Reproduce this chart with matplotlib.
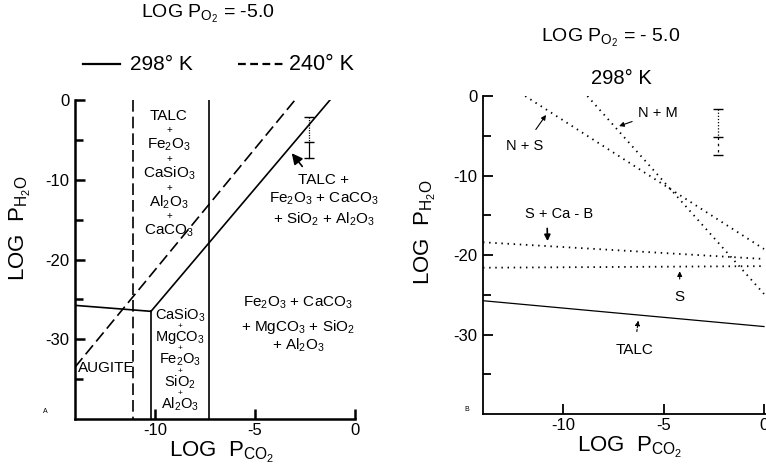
import matplotlib.pyplot as plt
from matplotlib.lines import Line2D

plt.rcParams['font.family'] = ['Liberation Sans', 'DejaVu Sans']
plt.rcParams['mathtext.default'] = 'regular'
plt.rcParams['axes.unicode_minus'] = False

W, H = 766, 473

# --- panel A: stability boundaries, log P(O2) = -5.0
# 298 K (solid)
augite_298_x = [-14.0, -10.2]
augite_298_y = [-25.75, -26.5]
casio3_298_x = [-10.2, -10.2]
casio3_298_y = [-26.5, -40.0]
talc_298_x = [-10.2, -1.25]
talc_298_y = [-26.5, 0.0]
caco3_298_x = [-7.3, -7.3]
caco3_298_y = [0.0, -40.0]
# 240 K (dashed)
caco3_240_x = [-11.1, -11.1]
caco3_240_y = [0.0, -40.0]
talc_240_x = [-14.0, -3.0]
talc_240_y = [-33.5, 0.0]

# measured water pressure range (upper / lower part)
err_x = -2.3
err_a_y = [-2.1, -5.25, -7.25]
err_b_y = [-1.6, -5.1, -7.4]

# --- panel B: individual reactions at 298 K
talc_b_x = [-14.0, 0.0]
talc_b_y = [-25.75, -29.0]
s_x = [-14.0, 0.0]
s_y = [-21.6, -21.4]
s_ca_b_x = [-14.0, 0.0]
s_ca_b_y = [-18.4, -20.5]
n_s_x = [-11.9, 0.0]
n_s_y = [0.0, -19.25]
n_m_x = [-8.8, 0.0]
n_m_y = [0.0, -24.9]

y_major = [0, -10, -20, -30]
y_minor = [-5, -15, -25, -35]
x_major = [-10, -5, 0]


def fx(px):
    return px / W


def fy(py):
    return 1 - py / H


def style_axes(ax, lw, xmax):
    for side in ('top', 'right'):
        ax.spines[side].set_visible(False)
    for side in ('left', 'bottom'):
        ax.spines[side].set_linewidth(lw)
    ax.set_xlim(-14, xmax)
    ax.set_ylim(-40, 0)
    ax.set_yticks(y_major)
    ax.set_yticks(y_minor, minor=True)
    ax.set_xticks(x_major)
    ax.tick_params(which='major', direction='in', length=7, width=lw, labelsize=12)
    ax.tick_params(which='minor', direction='in', length=6, width=lw)
    ax.tick_params(axis='y', pad=4)
    ax.tick_params(axis='x', pad=3)
    for s in ax.spines.values():
        s.set_clip_on(False)


def draw_errbar(ax, x, ys, upper_ls, lower_ls):
    ax.plot([x, x], ys[:2], color='k', lw=0.9, ls=upper_ls)
    ax.plot([x, x], ys[1:], color='k', lw=0.9, ls=lower_ls)
    ax.plot([x] * 3, ys, ls='none', marker='_', ms=7, mew=1.0, color='k')


def stack(ax, x, y0, step, items, fs, plus_fs=7):
    for i, s in enumerate(items):
        y = y0 - i * step
        ax.text(x, y, s, ha='center', va='center', fontsize=fs)
        if i < len(items) - 1:
            ax.text(x, y - step / 2, '+', ha='center', va='center', fontsize=plus_fs)


fig = plt.figure(figsize=(W / 100, H / 100), dpi=100)

# ---------------- panel A ----------------
axa = fig.add_axes([fx(75), fy(419), fx(355 - 75), (419 - 100) / H])
style_axes(axa, 1.8, 0)
solid = dict(color='k', lw=1.2)
dashed = dict(color='k', lw=1.2, ls=(0, (7, 3)))
axa.plot(augite_298_x, augite_298_y, **solid)
axa.plot(casio3_298_x, casio3_298_y, **solid)
axa.plot(talc_298_x, talc_298_y, **solid)
axa.plot(caco3_298_x, caco3_298_y, **solid)
axa.plot(caco3_240_x, caco3_240_y, **dashed)
axa.plot(talc_240_x, talc_240_y, **dashed)
draw_errbar(axa, err_x, err_a_y, (0, (1, 1)), '-')

stack(axa, -9.3, -2.0, 3.6,
      ['TALC', 'Fe$_2$O$_3$', 'CaSiO$_3$', 'Al$_2$O$_3$', 'CaCO$_3$'], 11)
stack(axa, -8.75, -27.0, 2.8,
      ['CaSiO$_3$', 'MgCO$_3$', 'Fe$_2$O$_3$', 'SiO$_2$', 'Al$_2$O$_3$'], 10.5, 6)
axa.text(-12.45, -33.6, 'AUGITE', ha='center', va='center', fontsize=11)
for y, s in [(-10.0, 'TALC +'),
             (-12.4, 'Fe$_2$O$_3$ + CaCO$_3$'),
             (-14.9, '+ SiO$_2$ + Al$_2$O$_3$')]:
    axa.text(-1.55, y, s, ha='center', va='center', fontsize=11)
for y, s in [(-25.4, 'Fe$_2$O$_3$ + CaCO$_3$'),
             (-28.5, '+ MgCO$_3$ + SiO$_2$'),
             (-30.8, '+ Al$_2$O$_3$')]:
    axa.text(-2.85, y, s, ha='center', va='center', fontsize=11)
axa.annotate('', xy=(-3.25, -6.4), xytext=(-2.55, -8.6),
             arrowprops=dict(arrowstyle='-|>', color='k', lw=1.2, mutation_scale=16))
axa.text(-15.5, -39.0, 'A', fontsize=5, ha='center', va='center')

fig.text(fx(208), fy(14), 'LOG P$_{O_2}$ = -5.0', ha='center', va='center', fontsize=14)
fig.add_artist(Line2D([fx(83), fx(120)], [fy(64), fy(64)], color='k', lw=1.6))
fig.text(fx(130), fy(64), '298° K', ha='left', va='center', fontsize=15)
fig.add_artist(Line2D([fx(238), fx(285)], [fy(64), fy(64)], color='k', lw=1.6,
                      ls=(0, (3.5, 2))))
fig.text(fx(289), fy(64), '240° K', ha='left', va='center', fontsize=15.5)
fig.text(fx(20), fy(228), 'LOG  P$_{H_2O}$', rotation=90, ha='center', va='center',
         fontsize=16)
fig.text(fx(222), fy(452), 'LOG  P$_{CO_2}$', ha='center', va='center', fontsize=16)

# ---------------- panel B ----------------
axb = fig.add_axes([fx(483), fy(414), fx(766 - 483), (414 - 96) / H])
style_axes(axb, 1.3, 0.1)
dotted = dict(color='k', lw=1.3, ls=(0, (0.8, 2.6)))
axb.plot(talc_b_x, talc_b_y, color='k', lw=0.9)
axb.plot(s_x, s_y, **dotted)
axb.plot(s_ca_b_x, s_ca_b_y, **dotted)
axb.plot(n_s_x, n_s_y, **dotted)
axb.plot(n_m_x, n_m_y, **dotted)
draw_errbar(axb, err_x, err_b_y, (0, (1, 1.5)), (0, (2, 3)))

thin = dict(arrowstyle='-|>', color='k', lw=0.8, mutation_scale=7)
axb.annotate('N + M', xy=(-7.35, -3.9), xytext=(-6.3, -2.1), fontsize=10.5,
             ha='left', va='center', arrowprops=thin)
axb.annotate('N + S', xy=(-10.78, -2.1), xytext=(-11.95, -6.3), fontsize=10.5,
             ha='center', va='center', arrowprops=dict(thin, shrinkA=6))
axb.annotate('S + Ca - B', xy=(-10.78, -18.6), xytext=(-10.2, -14.9), fontsize=10.5,
             ha='center', va='center',
             arrowprops=dict(arrowstyle='-|>', color='k', lw=1.2, mutation_scale=9,
                             relpos=(0.32, 0), shrinkA=3))
axb.annotate('S', xy=(-4.2, -21.7), xytext=(-4.2, -25.3), fontsize=11,
             ha='center', va='center', arrowprops=dict(thin, shrinkA=6))
axb.annotate('TALC', xy=(-6.25, -27.9), xytext=(-6.45, -31.9), fontsize=11,
             ha='center', va='center',
             arrowprops=dict(thin, ls=(0, (2, 1.5)), shrinkA=6))
axb.text(-14.8, -39.4, 'B', fontsize=5, ha='center', va='center')

fig.text(fx(611), fy(38), 'LOG P$_{O_2}$ = - 5.0', ha='center', va='center', fontsize=14)
fig.text(fx(621), fy(79), '298° K', ha='center', va='center', fontsize=14.5)
fig.text(fx(425), fy(232), 'LOG  P$_{H_2O}$', rotation=90, ha='center', va='center',
         fontsize=16)
fig.text(fx(630), fy(447), 'LOG  P$_{CO_2}$', ha='center', va='center', fontsize=16)

fig.savefig('out.png', dpi=100)
